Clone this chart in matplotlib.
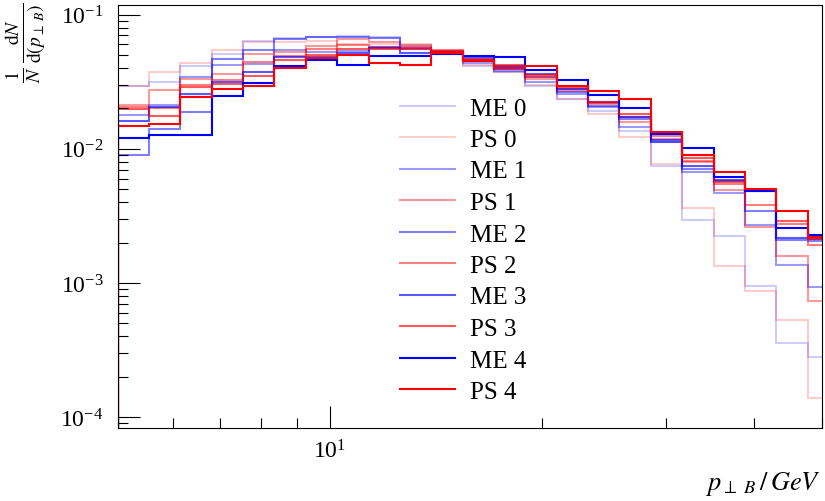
import numpy as np
import matplotlib
matplotlib.use("Agg")
import matplotlib.pyplot as plt
from matplotlib.ticker import NullFormatter, LogLocator

plt.rcParams["font.family"] = "serif"
plt.rcParams["font.serif"] = ["Liberation Serif", "DejaVu Serif"]
plt.rcParams["mathtext.fontset"] = "stix"

# log-spaced bin edges in GeV
edges = [5.00, 5.54, 6.14, 6.80, 7.54, 8.35, 9.25, 10.25, 11.36, 12.58, 13.94, 15.45,
         17.11, 18.96, 21.01, 23.28, 25.79, 28.58, 31.66, 35.08, 38.87, 43.07, 47.72, 52.87]

me0 = [0.0294, 0.0315, 0.0415, 0.0510, 0.0640, 0.0671, 0.0685, 0.0694, 0.0682, 0.0584, 0.0510, 0.0415,
       0.0374, 0.0294, 0.0235, 0.0192, 0.0136, 0.00746, 0.00295, 0.00224, 0.00095, 0.00036, 0.00028]
ps0 = [0.0294, 0.0374, 0.0437, 0.0546, 0.0626, 0.0626, 0.0637, 0.0610, 0.0605, 0.0605, 0.0510, 0.0422,
       0.0374, 0.0299, 0.0235, 0.0182, 0.0123, 0.00772, 0.00363, 0.00134, 0.00087, 0.00053, 0.00014]
me1 = [0.0179, 0.0212, 0.0343, 0.0422, 0.0429, 0.0546, 0.0523, 0.0536, 0.0574, 0.0555, 0.0527, 0.0437,
       0.0381, 0.0315, 0.0257, 0.0205, 0.0146, 0.0112, 0.00673, 0.00469, 0.00271, 0.00136, 0.00094]
ps1 = [0.0212, 0.0275, 0.0332, 0.0361, 0.0510, 0.0527, 0.0584, 0.0659, 0.0626, 0.0594, 0.0536, 0.0452,
       0.0394, 0.0332, 0.0270, 0.0216, 0.0159, 0.0119, 0.00799, 0.00494, 0.00262, 0.00159, 0.00074]
me2 = [0.0090, 0.0141, 0.0188, 0.0468, 0.0550, 0.0659, 0.0685, 0.0682, 0.0671, 0.0565, 0.0527, 0.0468,
       0.0394, 0.0343, 0.0265, 0.0209, 0.0167, 0.0112, 0.00708, 0.00576, 0.00345, 0.00210, 0.00206]
ps2 = [0.0205, 0.0202, 0.0299, 0.0326, 0.0444, 0.0492, 0.0555, 0.0596, 0.0574, 0.0570, 0.0546, 0.0468,
       0.0408, 0.0343, 0.0279, 0.0220, 0.0173, 0.0125, 0.00812, 0.00548, 0.00382, 0.00276, 0.00192]
me3 = [0.0161, 0.0205, 0.0257, 0.0315, 0.0373, 0.0482, 0.0484, 0.0515, 0.0565, 0.0521, 0.0518, 0.0484,
       0.0415, 0.0361, 0.0279, 0.0224, 0.0173, 0.0116, 0.00746, 0.00588, 0.00486, 0.00217, 0.00213]
ps3 = [0.0198, 0.0176, 0.0289, 0.0305, 0.0351, 0.0460, 0.0504, 0.0555, 0.0555, 0.0555, 0.0536, 0.0460,
       0.0422, 0.0355, 0.0289, 0.0224, 0.0182, 0.0131, 0.00855, 0.00567, 0.00497, 0.00288, 0.00213]
me4 = [0.0121, 0.0128, 0.0127, 0.0248, 0.0310, 0.0417, 0.0462, 0.0424, 0.0496, 0.0496, 0.0510, 0.0496,
       0.0481, 0.0384, 0.0324, 0.0250, 0.0201, 0.0129, 0.0102, 0.00613, 0.00488, 0.00256, 0.00228]
ps4 = [0.0149, 0.0153, 0.0245, 0.0279, 0.0292, 0.0399, 0.0474, 0.0497, 0.0437, 0.0422, 0.0518, 0.0452,
       0.0401, 0.0415, 0.0294, 0.0271, 0.0235, 0.0134, 0.0090, 0.00673, 0.00501, 0.00345, 0.00221]

labels = ["ME 0", "PS 0", "ME 1", "PS 1", "ME 2", "PS 2", "ME 3", "PS 3", "ME 4", "PS 4"]
series = [me0, ps0, me1, ps1, me2, ps2, me3, ps3, me4, ps4]
alphas = [0.2, 0.2, 0.4, 0.4, 0.5, 0.5, 0.65, 0.65, 1.0, 1.0]

fig = plt.figure(figsize=(8.25, 5.02), dpi=100)
ax = fig.add_axes([117.5 / 825, 1 - 429 / 502, (822 - 117.5) / 825, (429 - 6.3) / 502])

for lab, vals, a in zip(labels, series, alphas):
    col = "blue" if lab.startswith("ME") else "red"
    ax.stairs(vals, edges, color=col, alpha=a, lw=1.5, label=lab)

ax.set_xscale("log")
ax.set_yscale("log")
ax.set_xlim(5, 50)
ax.set_ylim(8.32e-5, 0.1175)

ax.xaxis.set_minor_locator(LogLocator(base=10, subs=np.arange(2, 10)))
ax.xaxis.set_minor_formatter(NullFormatter())
ax.tick_params(which="both", direction="in", top=False, right=False, width=0.8)
ax.tick_params(which="major", length=16, labelsize=17)
ax.tick_params(which="minor", length=7)
ax.tick_params(axis="x", pad=8)
ax.tick_params(axis="y", pad=10)
for s in ax.spines.values():
    s.set_linewidth(0.8)

ax.legend(loc="upper left", bbox_to_anchor=(400 / 825, 1 - 98 / 502), bbox_transform=fig.transFigure,
          frameon=False, fontsize=18, handlelength=2.2, handletextpad=0.6, labelspacing=0.36,
          borderpad=0, borderaxespad=0)

fig.text(821 / 825, 1 - 484 / 502, r"$p_{\perp\ B}\,/\,GeV$", ha="right", va="center", fontsize=19)
fig.text(26 / 825, 1 - 3 / 502, r"$\frac{1}{N}\,\frac{\mathrm{d}N}{\mathrm{d}(p_{\perp\ B})}$",
         rotation=90, ha="center", va="top", fontsize=20)

fig.savefig("out.png", dpi=100)
